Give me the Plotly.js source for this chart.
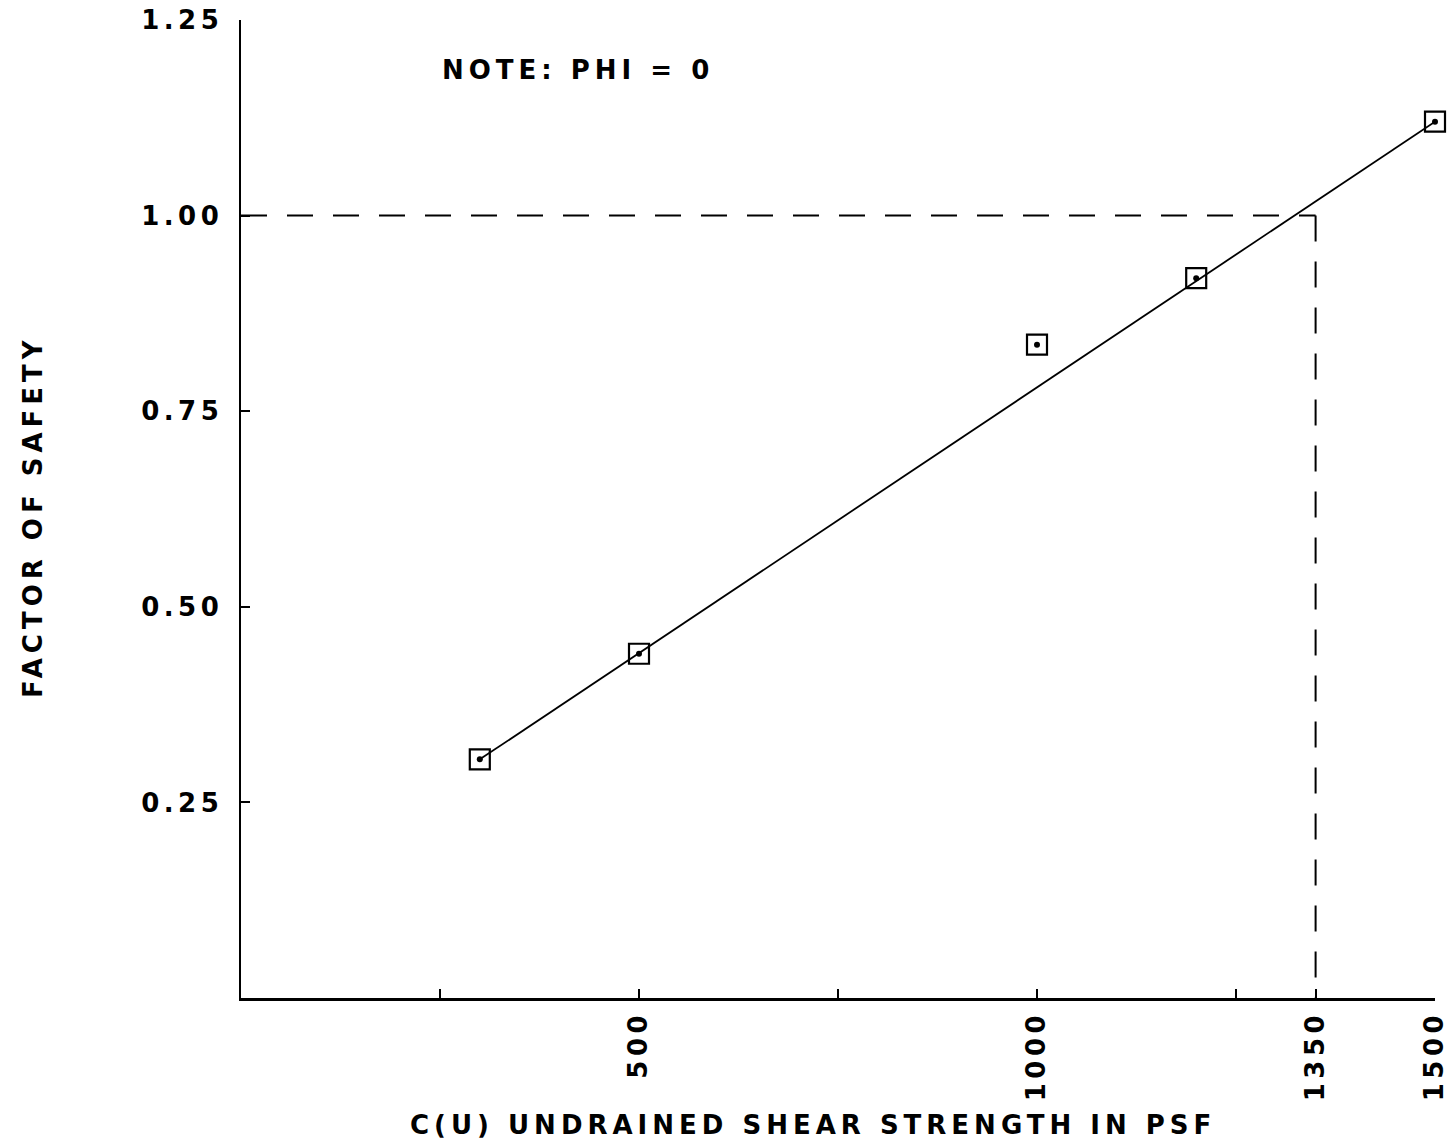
<!DOCTYPE html>
<html>
<head>
<meta charset="utf-8">
<script src="https://cdn.plot.ly/plotly-3.0.1.min.js"></script>
<style>
  html, body { margin: 0; padding: 0; background: #fff; }
  #chart { width: 1451px; height: 1143px; }
  .xtick text, .ytick text { letter-spacing: 4.5px; }
  .annotation-text { letter-spacing: 5px; }
</style>
</head>
<body>
<div id="chart"></div>
<script>
// Measured points: undrained shear strength (psf) vs factor of safety
const cuValues = [300, 500, 1000, 1200, 1500];
const fsValues = [0.305, 0.44, 0.835, 0.92, 1.12];

// Fitted straight line drawn through the points
const fitCu = [300, 1500];
const fitFs = [0.305, 1.12];

// Critical value where factor of safety = 1
const critCu = 1350;
const critFs = 1.0;

// Axis ticks
const xTickVals = [500, 1000, 1350, 1500];
const xTickText = ['500', '1000', '1350', '1500'];
const xMinorVals = [250, 750, 1250];
const yTickVals = [0.25, 0.5, 0.75, 1.0, 1.25];
const yTickText = ['0.25', '0.50', '0.75', '1.00', '1.25'];

const noteText = 'NOTE: PHI = 0';
const xTitle = 'C(U) UNDRAINED SHEAR STRENGTH IN PSF';
const yTitle = 'FACTOR OF SAFETY';

const font = { family: 'DejaVu Sans, Liberation Sans, Arial, sans-serif', size: 26, color: '#000', weight: 'bold' };

const traces = [
  { x: [0, critCu], y: [critFs, critFs], mode: 'lines', line: { color: '#000', width: 2, dash: '26px,20px' }, hoverinfo: 'skip' },
  { x: [critCu, critCu], y: [critFs, 0], mode: 'lines', line: { color: '#000', width: 2, dash: '26px,20px' }, hoverinfo: 'skip' },
  { x: fitCu, y: fitFs, mode: 'lines', line: { color: '#000', width: 1.8 }, cliponaxis: false },
  { x: cuValues, y: fsValues, mode: 'markers', cliponaxis: false, marker: { symbol: 'square-open', size: 20, color: '#000', line: { color: '#000', width: 2.2 } } },
  { x: cuValues, y: fsValues, mode: 'markers', cliponaxis: false, marker: { symbol: 'circle', size: 6, color: '#000' } }
];

const layout = {
  width: 1451, height: 1143,
  margin: { l: 241, r: 16, t: 20, b: 145 },
  paper_bgcolor: '#fff', plot_bgcolor: '#fff',
  showlegend: false,
  font: font,
  xaxis: {
    range: [0, 1500], showgrid: false, zeroline: false,
    showline: true, linecolor: '#000', linewidth: 2.5,
    tickmode: 'array', tickvals: xTickVals, ticktext: xTickText,
    ticks: 'inside', ticklen: 9, tickwidth: 2, tickcolor: '#000',
    tickangle: -90, tickfont: font,
    minor: { tickmode: 'array', tickvals: xMinorVals, ticks: 'inside', ticklen: 9, tickwidth: 2, tickcolor: '#000' },
    automargin: false
  },
  yaxis: {
    range: [0, 1.25], showgrid: false, zeroline: false,
    showline: true, linecolor: '#000', linewidth: 2.5,
    tickmode: 'array', tickvals: yTickVals, ticktext: yTickText,
    ticks: 'inside', ticklen: 9, tickwidth: 2, tickcolor: '#000',
    tickfont: font, ticklabelstandoff: 10,
    automargin: false
  },
  annotations: [
    { x: 250, y: 1.186, xref: 'x', yref: 'y', text: noteText, showarrow: false, xanchor: 'left', yanchor: 'middle', font: font },
    { x: 0.479, y: -0.130, xref: 'paper', yref: 'paper', text: xTitle, showarrow: false, xanchor: 'center', yanchor: 'middle', font: font },
    { x: -0.174, y: 0.492, xref: 'paper', yref: 'paper', text: yTitle, showarrow: false, textangle: -90, xanchor: 'center', yanchor: 'middle', font: font }
  ]
};

Plotly.newPlot('chart', traces, layout, { staticPlot: true, displayModeBar: false });
</script>
</body>
</html>
